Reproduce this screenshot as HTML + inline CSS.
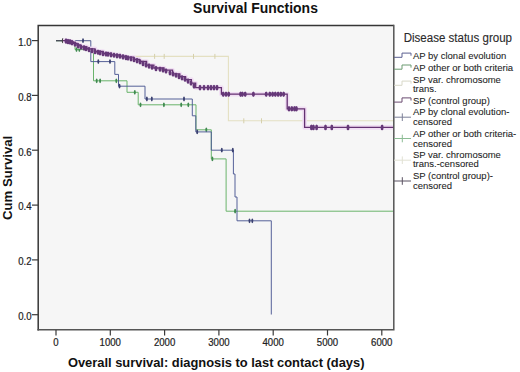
<!DOCTYPE html>
<html><head><meta charset="utf-8"><style>
html,body{margin:0;padding:0;background:#fff;width:520px;height:372px;overflow:hidden}
svg{display:block;font-family:"Liberation Sans",sans-serif}
</style></head><body>
<svg width="520" height="372" viewBox="0 0 520 372">
<rect x="0" y="0" width="520" height="372" fill="#fff"/>
<rect x="38.2" y="25.4" width="355.6" height="304.4" fill="#f6f6f6"/>

<path d="M56,40.7 H90.8 M119,56.4 H228.4 V120.8 H394" stroke="#e4e0c2" stroke-width="1.1" fill="none"/>
<path d="M154.6,53.9 V58.9 M164.2,53.9 V58.9 M193.5,53.9 V58.9 M214.9,53.9 V58.9 M243.8,118.3 V123.3 M261.5,118.3 V123.3" stroke="#d6d0ac" stroke-width="1"/>
<path d="M56.0,40.7 L75.0,40.7 L75.0,49.6 L93.5,49.6 L93.5,80.8 L127.0,80.8 L127.0,92.3 L138.2,92.3 L138.2,104.8 L196.0,104.8 L196.0,129.8 L211.3,129.8 L211.3,158.9 L226.1,158.9 L226.1,211.2 L394.0,211.2" stroke="#6ab46c" stroke-width="1.0" fill="none"/>
<ellipse cx="76.5" cy="49.6" rx="1.0" ry="2.4" fill="#3f8a4f"/><ellipse cx="79.3" cy="49.6" rx="1.0" ry="2.4" fill="#3f8a4f"/><ellipse cx="96.7" cy="80.8" rx="1.0" ry="2.4" fill="#3f8a4f"/><ellipse cx="100.1" cy="80.8" rx="1.0" ry="2.4" fill="#3f8a4f"/><ellipse cx="116.3" cy="80.8" rx="1.0" ry="2.4" fill="#3f8a4f"/><ellipse cx="134.8" cy="92.3" rx="1.0" ry="2.4" fill="#3f8a4f"/><ellipse cx="140.5" cy="104.8" rx="1.0" ry="2.4" fill="#3f8a4f"/><ellipse cx="163.9" cy="104.8" rx="1.0" ry="2.4" fill="#3f8a4f"/><ellipse cx="181.2" cy="104.8" rx="1.0" ry="2.4" fill="#3f8a4f"/><ellipse cx="188.3" cy="104.8" rx="1.0" ry="2.4" fill="#3f8a4f"/><ellipse cx="206.3" cy="129.8" rx="1.0" ry="2.4" fill="#3f8a4f"/><ellipse cx="212.4" cy="158.9" rx="1.0" ry="2.4" fill="#3f8a4f"/><ellipse cx="235.1" cy="211.2" rx="1.0" ry="2.4" fill="#3f8a4f"/>
<path d="M56.0,40.7 L90.8,40.7 L90.8,61.6 L114.8,61.6 L114.8,74.4 L118.5,74.4 L118.5,86.2 L145.0,86.2 L145.0,99.0 L192.3,99.0 L192.3,115.8 L195.8,115.8 L195.8,131.9 L211.3,131.9 L211.3,150.2 L233.4,150.2 L233.4,174.0 L235.0,174.0 L235.0,197.0 L237.0,197.0 L237.0,220.8 L271.3,220.8 L271.3,314.5 L271.3,314.5" stroke="#4d5894" stroke-width="0.95" fill="none"/>
<ellipse cx="83.0" cy="40.7" rx="1.0" ry="2.4" fill="#3a4070"/><ellipse cx="98.3" cy="61.6" rx="1.0" ry="2.4" fill="#3a4070"/><ellipse cx="110.0" cy="61.6" rx="1.0" ry="2.4" fill="#3a4070"/><ellipse cx="119.5" cy="86.2" rx="1.0" ry="2.4" fill="#3a4070"/><ellipse cx="146.9" cy="99.0" rx="1.0" ry="2.4" fill="#3a4070"/><ellipse cx="151.8" cy="99.0" rx="1.0" ry="2.4" fill="#3a4070"/><ellipse cx="184.0" cy="99.0" rx="1.0" ry="2.4" fill="#3a4070"/><ellipse cx="197.2" cy="131.9" rx="1.0" ry="2.4" fill="#3a4070"/><ellipse cx="221.8" cy="150.2" rx="1.0" ry="2.4" fill="#3a4070"/><ellipse cx="232.8" cy="150.2" rx="1.0" ry="2.4" fill="#3a4070"/><ellipse cx="249.5" cy="220.8" rx="1.0" ry="2.4" fill="#3a4070"/><ellipse cx="252.3" cy="220.8" rx="1.0" ry="2.4" fill="#3a4070"/>
<path d="M56,40.7 H64" stroke="#4a4a50" stroke-width="1.1"/>
<ellipse cx="62.8" cy="40.7" rx="1.0" ry="2.6" fill="#444"/>
<path d="M63.0,40.7 L64.0,40.7 L64.0,40.7 L68.0,40.7 L68.0,41.5 L70.8,41.5 L70.8,42.0 L73.5,42.0 L73.5,43.4 L77.0,43.4 L77.0,45.0 L80.2,45.0 L80.2,46.8 L86.9,46.8 L86.9,48.8 L95.0,48.8 L95.0,51.5 L103.0,51.5 L103.0,53.5 L111.1,53.5 L111.1,54.8 L119.2,54.8 L119.2,56.2 L125.0,56.2 L125.0,57.2 L133.7,57.2 L133.7,59.4 L139.4,59.4 L139.4,61.5 L146.6,61.5 L146.6,65.2 L153.9,65.2 L153.9,68.0 L164.0,68.0 L164.0,70.2 L172.6,70.2 L172.6,73.8 L179.8,73.8 L179.8,76.7 L185.6,76.7 L185.6,79.6 L191.4,79.6 L191.4,83.2 L195.7,83.2 L195.7,87.6 L221.4,87.6 L221.4,94.2 L287.2,94.2 L287.2,108.8 L304.6,108.8 L304.6,127.4 L394.0,127.4" stroke="#f0def3" stroke-width="4.6" fill="none" stroke-linejoin="round"/>
<path d="M63.0,40.7 L64.0,40.7 L64.0,40.7 L68.0,40.7 L68.0,41.5 L70.8,41.5 L70.8,42.0 L73.5,42.0 L73.5,43.4 L77.0,43.4 L77.0,45.0 L80.2,45.0 L80.2,46.8 L86.9,46.8 L86.9,48.8 L95.0,48.8 L95.0,51.5 L103.0,51.5 L103.0,53.5 L111.1,53.5 L111.1,54.8 L119.2,54.8 L119.2,56.2 L125.0,56.2 L125.0,57.2 L133.7,57.2 L133.7,59.4 L139.4,59.4 L139.4,61.5 L146.6,61.5 L146.6,65.2 L153.9,65.2 L153.9,68.0 L164.0,68.0 L164.0,70.2 L172.6,70.2 L172.6,73.8 L179.8,73.8 L179.8,76.7 L185.6,76.7 L185.6,79.6 L191.4,79.6 L191.4,83.2 L195.7,83.2 L195.7,87.6 L221.4,87.6 L221.4,94.2 L287.2,94.2 L287.2,108.8 L304.6,108.8 L304.6,127.4 L394.0,127.4" stroke="#643172" stroke-width="1.3" fill="none"/>
<ellipse cx="66.0" cy="41.1" rx="1.5" ry="2.8" fill="#653878"/><ellipse cx="68.0" cy="41.5" rx="1.5" ry="2.8" fill="#653878"/><ellipse cx="70.0" cy="41.9" rx="1.5" ry="2.8" fill="#653878"/><ellipse cx="72.0" cy="42.6" rx="1.5" ry="2.8" fill="#653878"/><ellipse cx="75.0" cy="44.1" rx="1.5" ry="2.8" fill="#653878"/><ellipse cx="78.0" cy="45.6" rx="1.5" ry="2.8" fill="#653878"/><ellipse cx="81.0" cy="47.0" rx="1.5" ry="2.8" fill="#653878"/><ellipse cx="84.0" cy="47.9" rx="1.5" ry="2.8" fill="#653878"/><ellipse cx="86.0" cy="48.5" rx="1.5" ry="2.8" fill="#653878"/><ellipse cx="89.0" cy="49.5" rx="1.5" ry="2.8" fill="#653878"/><ellipse cx="92.0" cy="50.5" rx="1.5" ry="2.8" fill="#653878"/><ellipse cx="95.0" cy="51.5" rx="1.5" ry="2.8" fill="#653878"/><ellipse cx="98.0" cy="52.2" rx="1.5" ry="2.8" fill="#653878"/><ellipse cx="100.0" cy="52.8" rx="1.5" ry="2.8" fill="#653878"/><ellipse cx="103.0" cy="53.5" rx="1.5" ry="2.8" fill="#653878"/><ellipse cx="106.0" cy="54.0" rx="1.5" ry="2.8" fill="#653878"/><ellipse cx="108.0" cy="54.3" rx="1.5" ry="2.8" fill="#653878"/><ellipse cx="111.0" cy="54.8" rx="1.5" ry="2.8" fill="#653878"/><ellipse cx="114.0" cy="55.3" rx="1.5" ry="2.8" fill="#653878"/><ellipse cx="117.0" cy="55.8" rx="1.5" ry="2.8" fill="#653878"/><ellipse cx="120.0" cy="56.3" rx="1.5" ry="2.8" fill="#653878"/><ellipse cx="123.0" cy="56.9" rx="1.5" ry="2.8" fill="#653878"/><ellipse cx="126.0" cy="57.5" rx="1.5" ry="2.8" fill="#653878"/><ellipse cx="128.0" cy="58.0" rx="1.5" ry="2.8" fill="#653878"/><ellipse cx="131.0" cy="58.7" rx="1.5" ry="2.8" fill="#653878"/><ellipse cx="134.0" cy="59.5" rx="1.5" ry="2.8" fill="#653878"/><ellipse cx="137.0" cy="60.6" rx="1.5" ry="2.8" fill="#653878"/><ellipse cx="140.0" cy="61.8" rx="1.5" ry="2.8" fill="#653878"/><ellipse cx="143.0" cy="63.4" rx="1.5" ry="2.8" fill="#653878"/><ellipse cx="146.0" cy="64.9" rx="1.5" ry="2.8" fill="#653878"/><ellipse cx="149.0" cy="66.1" rx="1.5" ry="2.8" fill="#653878"/><ellipse cx="152.0" cy="67.3" rx="1.5" ry="2.8" fill="#653878"/><ellipse cx="156.0" cy="68.5" rx="1.5" ry="2.8" fill="#653878"/><ellipse cx="160.0" cy="69.3" rx="1.5" ry="2.8" fill="#653878"/><ellipse cx="163.0" cy="70.0" rx="1.5" ry="2.8" fill="#653878"/><ellipse cx="166.0" cy="71.0" rx="1.5" ry="2.8" fill="#653878"/><ellipse cx="170.0" cy="72.7" rx="1.5" ry="2.8" fill="#653878"/><ellipse cx="173.0" cy="74.0" rx="1.5" ry="2.8" fill="#653878"/><ellipse cx="176.0" cy="75.2" rx="1.5" ry="2.8" fill="#653878"/><ellipse cx="179.0" cy="76.4" rx="1.5" ry="2.8" fill="#653878"/><ellipse cx="182.0" cy="77.8" rx="1.5" ry="2.8" fill="#653878"/><ellipse cx="185.0" cy="79.3" rx="1.5" ry="2.8" fill="#653878"/><ellipse cx="188.0" cy="81.1" rx="1.5" ry="2.8" fill="#653878"/><ellipse cx="191.0" cy="83.0" rx="1.5" ry="2.8" fill="#653878"/><ellipse cx="194.0" cy="85.9" rx="1.5" ry="2.8" fill="#653878"/><ellipse cx="200.0" cy="87.6" rx="1.5" ry="2.8" fill="#653878"/><ellipse cx="204.0" cy="87.6" rx="1.5" ry="2.8" fill="#653878"/><ellipse cx="208.0" cy="87.6" rx="1.5" ry="2.8" fill="#653878"/><ellipse cx="211.0" cy="87.6" rx="1.5" ry="2.8" fill="#653878"/><ellipse cx="214.0" cy="87.6" rx="1.5" ry="2.8" fill="#653878"/><ellipse cx="217.0" cy="87.6" rx="1.5" ry="2.8" fill="#653878"/><ellipse cx="223.2" cy="94.2" rx="1.5" ry="2.8" fill="#653878"/><ellipse cx="226.0" cy="94.2" rx="1.5" ry="2.8" fill="#653878"/><ellipse cx="228.7" cy="94.2" rx="1.5" ry="2.8" fill="#653878"/><ellipse cx="240.6" cy="94.2" rx="1.5" ry="2.8" fill="#653878"/><ellipse cx="242.4" cy="94.2" rx="1.5" ry="2.8" fill="#653878"/><ellipse cx="245.2" cy="94.2" rx="1.5" ry="2.8" fill="#653878"/><ellipse cx="253.4" cy="94.2" rx="1.5" ry="2.8" fill="#653878"/><ellipse cx="266.2" cy="94.2" rx="1.5" ry="2.8" fill="#653878"/><ellipse cx="269.8" cy="94.2" rx="1.5" ry="2.8" fill="#653878"/><ellipse cx="272.6" cy="94.2" rx="1.5" ry="2.8" fill="#653878"/><ellipse cx="275.3" cy="94.2" rx="1.5" ry="2.8" fill="#653878"/><ellipse cx="278.1" cy="94.2" rx="1.5" ry="2.8" fill="#653878"/><ellipse cx="280.8" cy="94.2" rx="1.5" ry="2.8" fill="#653878"/><ellipse cx="283.6" cy="94.2" rx="1.5" ry="2.8" fill="#653878"/><ellipse cx="289.0" cy="108.8" rx="1.5" ry="2.8" fill="#653878"/><ellipse cx="291.8" cy="108.8" rx="1.5" ry="2.8" fill="#653878"/><ellipse cx="294.5" cy="108.8" rx="1.5" ry="2.8" fill="#653878"/><ellipse cx="296.4" cy="108.8" rx="1.5" ry="2.8" fill="#653878"/><ellipse cx="311.4" cy="127.4" rx="1.5" ry="2.8" fill="#653878"/><ellipse cx="313.4" cy="127.4" rx="1.5" ry="2.8" fill="#653878"/><ellipse cx="316.6" cy="127.4" rx="1.5" ry="2.8" fill="#653878"/><ellipse cx="325.5" cy="127.4" rx="1.5" ry="2.8" fill="#653878"/><ellipse cx="331.8" cy="127.4" rx="1.5" ry="2.8" fill="#653878"/><ellipse cx="348.0" cy="127.4" rx="1.5" ry="2.8" fill="#653878"/><ellipse cx="382.1" cy="127.4" rx="1.5" ry="2.8" fill="#653878"/>

<path d="M38.2,330.5 V25.4 H393.8" fill="none" stroke="#363636" stroke-width="1.5"/>
<path d="M393.8,24.65 V329.8 H37.45" fill="none" stroke="#555" stroke-width="1.5"/>
<g stroke="#3a3a3a" stroke-width="1.2"><path d="M32,40.6 H38" /><path d="M32,95.4 H38" /><path d="M32,150.2 H38" /><path d="M32,205.1 H38" /><path d="M32,259.9 H38" /><path d="M32,314.7 H38" /><path d="M56.0,330 V335.5" /><path d="M110.3,330 V335.5" /><path d="M164.6,330 V335.5" /><path d="M218.9,330 V335.5" /><path d="M273.2,330 V335.5" /><path d="M327.5,330 V335.5" /><path d="M381.8,330 V335.5" /></g>
<g font-size="10.2" fill="#1e1e1e" stroke="#1e1e1e" stroke-width="0.22"><text x="31.5" y="45.9" text-anchor="end" textLength="13.35" lengthAdjust="spacingAndGlyphs">1.0</text><text x="31.5" y="100.7" text-anchor="end" textLength="13.35" lengthAdjust="spacingAndGlyphs">0.8</text><text x="31.5" y="155.5" text-anchor="end" textLength="13.35" lengthAdjust="spacingAndGlyphs">0.6</text><text x="31.5" y="210.4" text-anchor="end" textLength="13.35" lengthAdjust="spacingAndGlyphs">0.4</text><text x="31.5" y="265.2" text-anchor="end" textLength="13.35" lengthAdjust="spacingAndGlyphs">0.2</text><text x="31.5" y="320.0" text-anchor="end" textLength="13.35" lengthAdjust="spacingAndGlyphs">0.0</text></g>
<g font-size="10.2" fill="#1e1e1e" stroke="#1e1e1e" stroke-width="0.22"><text x="56.0" y="345.6" text-anchor="middle" textLength="5.34" lengthAdjust="spacingAndGlyphs">0</text><text x="110.3" y="345.6" text-anchor="middle" textLength="21.36" lengthAdjust="spacingAndGlyphs">1000</text><text x="164.6" y="345.6" text-anchor="middle" textLength="21.36" lengthAdjust="spacingAndGlyphs">2000</text><text x="218.9" y="345.6" text-anchor="middle" textLength="21.36" lengthAdjust="spacingAndGlyphs">3000</text><text x="273.2" y="345.6" text-anchor="middle" textLength="21.36" lengthAdjust="spacingAndGlyphs">4000</text><text x="327.5" y="345.6" text-anchor="middle" textLength="21.36" lengthAdjust="spacingAndGlyphs">5000</text><text x="381.8" y="345.6" text-anchor="middle" textLength="21.36" lengthAdjust="spacingAndGlyphs">6000</text></g>
<text x="193.1" y="12.7" font-size="15" font-weight="bold" textLength="124.8" lengthAdjust="spacingAndGlyphs" fill="#111">Survival Functions</text>
<text transform="translate(11.8,177.9) rotate(-90)" font-size="12.9" font-weight="bold" text-anchor="middle" textLength="84.2" lengthAdjust="spacingAndGlyphs" fill="#111">Cum Survival</text>
<text x="216.2" y="367" font-size="12.9" font-weight="bold" text-anchor="middle" fill="#111">Overall survival: diagnosis to last contact (days)</text>
<text x="403.7" y="41.8" font-size="12" textLength="108.3" lengthAdjust="spacingAndGlyphs" fill="#2a2a2a" stroke="#2a2a2a" stroke-width="0.12">Disease status group</text>
<path d="M394,57.3 H402 V53.1 H411 V55.7" stroke="#5a5f90" stroke-width="1" fill="none"/><path d="M394,69.2 H402 V65.0 H411 V67.6" stroke="#6a9a70" stroke-width="1" fill="none"/><path d="M394,85.3 H402 V81.1 H411 V83.7" stroke="#d8d8c8" stroke-width="1" fill="none"/><path d="M394,102.1 H402 V97.9 H411 V100.5" stroke="#6a4a70" stroke-width="1" fill="none"/><path d="M394,117.2 H411 M402.3,113.4 V121.0" stroke="#7c8098" stroke-width="1" fill="none"/><path d="M394,138.5 H411 M402.3,134.7 V142.3" stroke="#8cbc94" stroke-width="1" fill="none"/><path d="M394,160.2 H411 M402.3,156.4 V164.0" stroke="#e2e2d4" stroke-width="1" fill="none"/><path d="M394,181.0 H411 M402.3,177.2 V184.8" stroke="#5a5262" stroke-width="1" fill="none"/>
<g font-size="9.5" fill="#1e1e1e" stroke="#1e1e1e" stroke-width="0.08"><text x="412.9" y="58.6">AP by clonal evolution</text><text x="412.9" y="70.7">AP other or both criteria</text><text x="412.9" y="82.8">SP var. chromosome</text><text x="412.9" y="92.2">trans.</text><text x="412.9" y="103.5">SP (control group)</text><text x="412.9" y="115.4">AP by clonal evolution-</text><text x="412.9" y="124.5">censored</text><text x="412.9" y="137.3">AP other or both criteria-</text><text x="412.9" y="146.6">censored</text><text x="412.9" y="158.0">SP var. chromosome</text><text x="412.9" y="167.1">trans.-censored</text><text x="412.9" y="179.4">SP (control group)-</text><text x="412.9" y="188.5">censored</text></g>
</svg>
</body></html>
